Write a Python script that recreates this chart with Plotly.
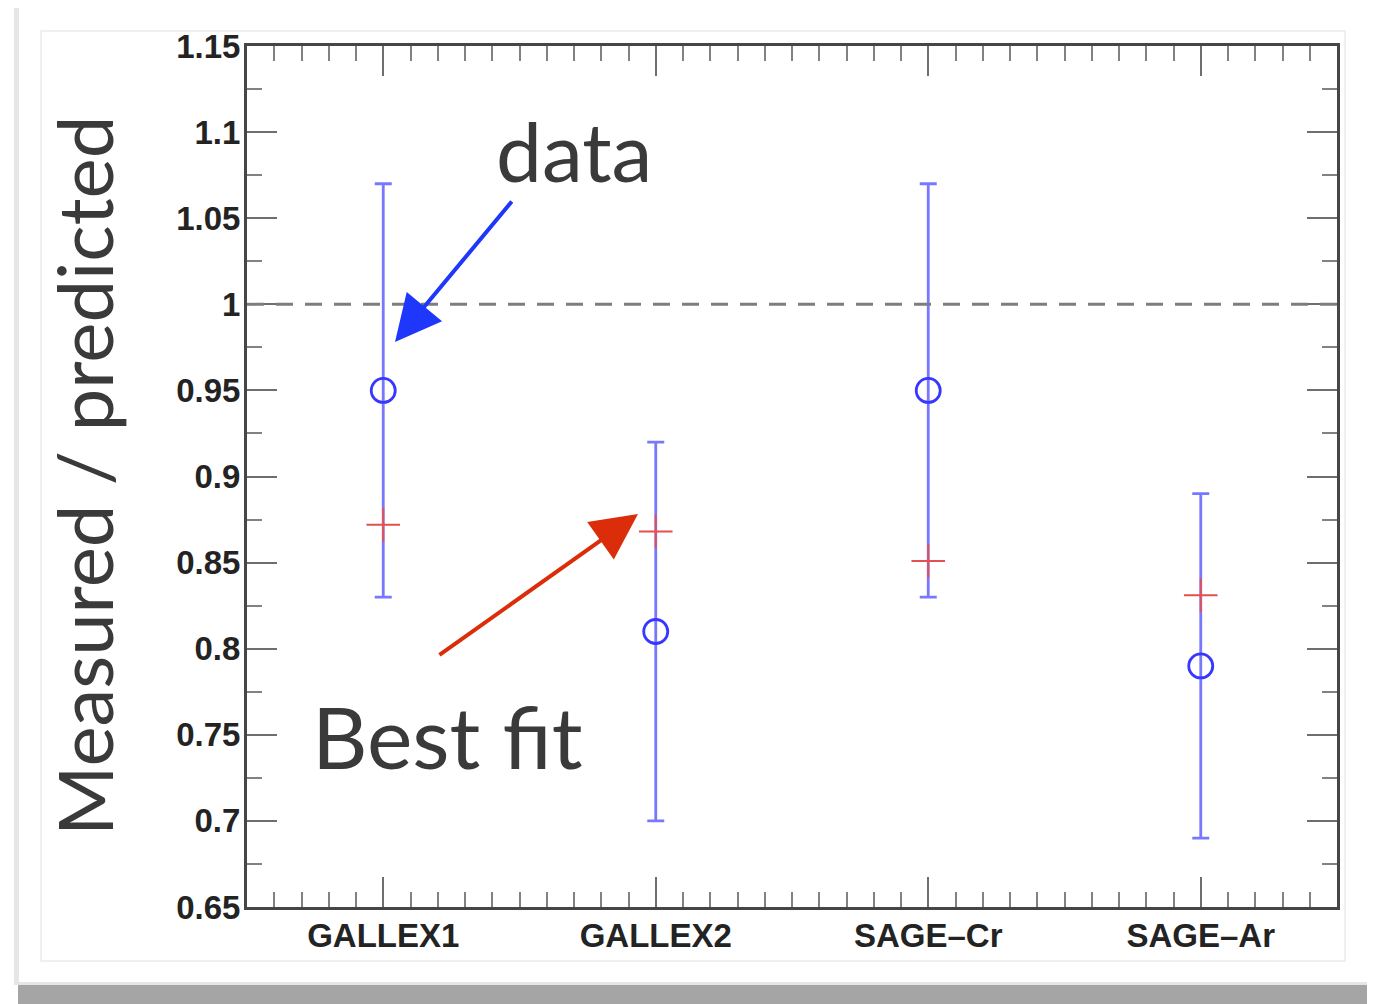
import numpy as np
import plotly.graph_objects as go

# ---- data ----
experiments = ["GALLEX1", "GALLEX2", "SAGE\u2013Cr", "SAGE\u2013Ar"]
x_pos = [1, 2, 3, 4]
measured = [0.95, 0.81, 0.95, 0.79]
err_plus = [0.12, 0.11, 0.12, 0.10]
err_minus = [0.12, 0.11, 0.12, 0.10]
best_fit = [0.872, 0.868, 0.851, 0.831]
y_ticks = [0.65, 0.70, 0.75, 0.80, 0.85, 0.90, 0.95, 1.00, 1.05, 1.10, 1.15]
y_ticktext = ["0.65", "0.7", "0.75", "0.8", "0.85", "0.9", "0.95", "1", "1.05", "1.1", "1.15"]
reference_ratio = 1.0

O = 8  # default body margin of the page
W, H = 1375 - O, 1004 - O
L, R, T, B = 247, 1337, 46, 907  # plot area in page pixels


def px(xp):
    return (xp - L) / (R - L)


def py(yp):
    return (B - yp) / (B - T)


fig = go.Figure()

fig.add_trace(go.Scatter(
    x=x_pos, y=measured, mode="markers",
    marker=dict(symbol="circle-open", size=24, color="rgb(55,55,255)",
                line=dict(width=2.8, color="rgb(55,55,255)")),
    error_y=dict(type="data", symmetric=False, array=err_plus, arrayminus=err_minus,
                 color="rgb(120,120,255)", thickness=2.8, width=8.5),
    showlegend=False,
))
fig.add_trace(go.Scatter(
    x=x_pos, y=best_fit, mode="markers",
    marker=dict(symbol="cross-thin", size=24,
                line=dict(width=2, color="rgb(228,80,80)")),
    showlegend=False,
))

shapes = []
# card shadow / frame
shapes.append(dict(type="rect", xref="paper", yref="paper", layer="below",
                   x0=px(18), x1=px(1372), y0=py(1006), y1=py(978),
                   fillcolor="rgb(165,165,165)", line=dict(width=0)))
shapes.append(dict(type="rect", xref="paper", yref="paper", layer="below",
                   x0=px(14), x1=px(1372), y0=py(985), y1=py(6),
                   fillcolor="rgb(230,230,230)", line=dict(width=0)))
shapes.append(dict(type="rect", xref="paper", yref="paper", layer="below",
                   x0=px(19), x1=px(1367), y0=py(982), y1=py(7),
                   fillcolor="white", line=dict(width=0)))
shapes.append(dict(type="rect", xref="paper", yref="paper", layer="below",
                   x0=px(41), x1=px(1345), y0=py(961), y1=py(31),
                   fillcolor="white", line=dict(width=1.5, color="rgb(236,236,236)")))
# reference line at 1
shapes.append(dict(type="line", xref="paper", yref="y", x0=0, x1=1,
                   y0=reference_ratio, y1=reference_ratio,
                   line=dict(color="rgb(125,125,125)", width=3, dash="17px,12px")))

text_col = "rgb(58,58,58)"
annotations = [
    dict(text="Measured / predicted", xref="paper", yref="paper",
         x=px(83), y=py(476), textangle=-90, showarrow=False,
         xanchor="center", yanchor="middle",
         font=dict(family="Lato", size=76, color=text_col)),
    dict(text="data", xref="paper", yref="paper", x=px(574), y=py(150),
         showarrow=False, xanchor="center", yanchor="middle",
         font=dict(family="Lato", size=82, color=text_col)),
    dict(text="Best fit", xref="paper", yref="paper", x=px(447), y=py(735),
         showarrow=False, xanchor="center", yanchor="middle",
         font=dict(family="Lato", size=86, color=text_col)),
    dict(text="", xref="paper", yref="paper", x=px(395), y=py(342),
         ax=118, ay=-142, axref="pixel", ayref="pixel", showarrow=True,
         arrowhead=2, arrowsize=2.3, arrowwidth=4, arrowcolor="rgb(30,55,250)"),
    dict(text="", xref="paper", yref="paper", x=px(638), y=py(514),
         ax=-200, ay=142, axref="pixel", ayref="pixel", showarrow=True,
         arrowhead=2, arrowsize=2.3, arrowwidth=4, arrowcolor="rgb(220,45,10)"),
]

axis_col = "rgb(70,70,70)"
tick_font = dict(family="Liberation Sans, Arial", size=33, color="rgb(35,35,35)", weight="bold")

fig.update_layout(
    width=W, height=H,
    margin=dict(l=L - O, r=W - (R - O), t=T - O, b=H - (B - O), pad=0),
    paper_bgcolor="white", plot_bgcolor="rgba(0,0,0,0)",
    shapes=shapes, annotations=annotations,
    xaxis=dict(range=[0.5, 4.5], tickmode="array", tickvals=x_pos, ticktext=experiments,
               ticks="inside", ticklen=30, tickwidth=2, tickcolor="rgb(110,110,110)",
               showline=True, linecolor=axis_col, linewidth=3, mirror="ticks",
               showgrid=False, zeroline=False, tickfont=tick_font, ticklabelstandoff=-3,
               minor=dict(tickmode="array",
                          tickvals=[v for v in np.round(np.arange(0.6, 4.45, 0.1), 2) if abs(v - round(v)) > 1e-6],
                          ticks="inside", ticklen=15, tickwidth=2, tickcolor="rgb(130,130,130)",
                          showgrid=False)),
    yaxis=dict(range=[0.65, 1.15], tickmode="array", tickvals=y_ticks, ticktext=y_ticktext,
               ticks="inside", ticklen=30, tickwidth=2, tickcolor="rgb(110,110,110)",
               showline=True, linecolor=axis_col, linewidth=3, mirror="ticks",
               showgrid=False, zeroline=False, tickfont=tick_font, ticklabelstandoff=-3,
               minor=dict(tickmode="array",
                          tickvals=list(np.round(np.arange(0.675, 1.15, 0.05), 3)),
                          ticks="inside", ticklen=15, tickwidth=2, tickcolor="rgb(130,130,130)",
                          showgrid=False)),
)

fig.write_html("out.html")
